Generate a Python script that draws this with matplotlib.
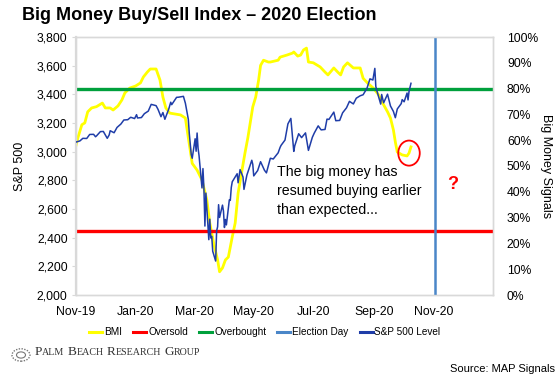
import matplotlib
matplotlib.use("Agg")
import matplotlib.pyplot as plt
import matplotlib.dates as mdates
from matplotlib.lines import Line2D
from matplotlib.patches import Ellipse, Circle
from matplotlib import font_manager
import numpy as np
import pandas as pd

# ---------------- data ----------------
sp_dates = ["2019-11-01","2019-11-05","2019-11-08","2019-11-12","2019-11-15","2019-11-19","2019-11-21","2019-11-22","2019-11-26","2019-11-29",
            "2019-12-03","2019-12-05","2019-12-06","2019-12-10","2019-12-13","2019-12-17","2019-12-20","2019-12-24","2019-12-27","2019-12-31",
            "2020-01-02","2020-01-03","2020-01-07","2020-01-10","2020-01-14","2020-01-17","2020-01-22","2020-01-24","2020-01-27","2020-01-29","2020-01-31",
            "2020-02-04","2020-02-06","2020-02-07","2020-02-12","2020-02-14","2020-02-19","2020-02-21","2020-02-24","2020-02-25","2020-02-27","2020-02-28",
            "2020-03-02","2020-03-03","2020-03-04","2020-03-05","2020-03-06","2020-03-09","2020-03-10","2020-03-11","2020-03-12","2020-03-13",
            "2020-03-16","2020-03-17","2020-03-18","2020-03-19","2020-03-20","2020-03-23","2020-03-24","2020-03-25","2020-03-26","2020-03-27","2020-03-30","2020-03-31",
            "2020-04-01","2020-04-02","2020-04-03","2020-04-06","2020-04-07","2020-04-08","2020-04-09","2020-04-14","2020-04-15","2020-04-17","2020-04-20","2020-04-21","2020-04-24","2020-04-29","2020-04-30",
            "2020-05-01","2020-05-05","2020-05-08","2020-05-12","2020-05-14","2020-05-18","2020-05-21","2020-05-26","2020-05-28","2020-05-29",
            "2020-06-02","2020-06-05","2020-06-08","2020-06-11","2020-06-12","2020-06-16","2020-06-19","2020-06-23","2020-06-26","2020-06-30",
            "2020-07-02","2020-07-06","2020-07-09","2020-07-13","2020-07-15","2020-07-17","2020-07-22","2020-07-24","2020-07-28","2020-07-31",
            "2020-08-04","2020-08-07","2020-08-11","2020-08-14","2020-08-18","2020-08-21","2020-08-25","2020-08-28","2020-08-31",
            "2020-09-02","2020-09-03","2020-09-04","2020-09-08","2020-09-09","2020-09-11","2020-09-15","2020-09-18","2020-09-21","2020-09-23","2020-09-25","2020-09-29","2020-09-30",
            "2020-10-02","2020-10-05","2020-10-06","2020-10-07","2020-10-08","2020-10-09"]
sp_values = [3067,3075,3093,3092,3120,3121,3104,3110,3140,3141,
             3093,3117,3146,3132,3169,3193,3221,3223,3240,3231,
             3258,3235,3238,3265,3283,3330,3321,3295,3244,3273,3226,
             3298,3345,3328,3379,3380,3386,3338,3226,3128,2979,2954,
             3090,3003,3130,3024,2972,2747,2882,2741,2481,2711,
             2386,2529,2398,2409,2305,2237,2447,2476,2630,2541,2627,2585,
             2471,2527,2489,2664,2660,2750,2790,2846,2783,2875,2823,2737,2837,2940,2912,
             2831,2868,2930,2870,2852,2954,2949,2992,3030,3044,
             3081,3194,3232,3002,3041,3125,3098,3131,3009,3100,
             3130,3180,3152,3155,3227,3225,3276,3216,3218,3271,
             3306,3351,3333,3373,3390,3397,3443,3508,3500,
             3581,3455,3427,3332,3399,3341,3401,3319,3281,3237,3298,3335,3363,
             3348,3409,3361,3419,3447,3477]

bmi_dates = ["2019-11-01","2019-11-03","2019-11-07","2019-11-10","2019-11-13","2019-11-17","2019-11-22","2019-11-28",
             "2019-12-01","2019-12-06","2019-12-09","2019-12-14","2019-12-18","2019-12-21","2019-12-26",
             "2020-01-01","2020-01-06","2020-01-09","2020-01-13","2020-01-16","2020-01-22","2020-01-26","2020-01-29",
             "2020-02-01","2020-02-05","2020-02-16","2020-02-21","2020-02-24","2020-02-28",
             "2020-03-04","2020-03-09","2020-03-14","2020-03-17","2020-03-21","2020-03-25","2020-03-27","2020-03-30",
             "2020-04-02","2020-04-05","2020-04-09","2020-04-12","2020-04-15","2020-04-19","2020-04-22","2020-04-25","2020-04-30",
             "2020-05-03","2020-05-06","2020-05-08","2020-05-11","2020-05-16","2020-05-18","2020-05-26","2020-05-28",
             "2020-06-04","2020-06-10","2020-06-11","2020-06-15","2020-06-18","2020-06-21","2020-06-24","2020-06-26",
             "2020-07-01","2020-07-08","2020-07-13","2020-07-16","2020-07-22","2020-07-26","2020-07-29",
             "2020-08-01","2020-08-05","2020-08-08","2020-08-11","2020-08-18","2020-08-21","2020-08-26",
             "2020-09-01","2020-09-06","2020-09-10","2020-09-15","2020-09-18","2020-09-21","2020-09-23","2020-09-25","2020-09-30",
             "2020-10-05","2020-10-07","2020-10-09"]
bmi_values = [58,61,66,66.7,71,72.5,73,74.4,
              72.5,72.5,71.7,73.3,75.6,78.3,80.2,
              81,82.2,84.5,86.4,87.6,87.6,83.3,76.7,
              72.5,70.5,69.8,68.6,61,51,
              48.4,44.6,36.8,27.9,20,13.6,9,10.5,
              13.6,14.7,22.5,27.9,39.5,48.4,55,61,72.9,
              76.7,83.3,89,91,90.3,90.3,91,92.2,
              93,93.8,94.2,92.6,93,95,95.7,90.3,
              90,88.4,86.4,85.3,88,86.4,85.3,
              88.4,90,89,88,88,84,82,
              80,77.5,74.4,71,68.6,64,59.3,55.4,54.3,
              53.9,55,57.4]

overbought_level = 80
oversold_level = 25
election_day = "2020-11-03"

x_start, x_end = "2019-11-01", "2021-01-01"
tick_dates = ["2019-11-01","2020-01-01","2020-03-01","2020-05-01","2020-07-01","2020-09-01","2020-11-01"]
left_ticks = [2000,2200,2400,2600,2800,3000,3200,3400,3600,3800]
right_ticks = [0,10,20,30,40,50,60,70,80,90,100]

title = "Big Money Buy/Sell Index \u2013 2020 Election"
annotation = "The big money has\nresumed buying earlier\nthan expected..."
legend_labels = ["BMI","Oversold","Overbought","Election Day","S&P 500 Level"]

# ---------------- fonts ----------------
avail = {f.name for f in font_manager.fontManager.ttflist}
narrow = "Liberation Sans Narrow" if "Liberation Sans Narrow" in avail else "Liberation Sans"
sans = "Liberation Sans"
serif = "Liberation Serif"

# ---------------- colours ----------------
c_yellow = "#FFFF00"
c_red = "#FF0000"
c_green = "#00A03C"
c_elec = "#4A86C8"
c_blue = "#1F3DA8"
c_grid = "#D9D9D9"

W, H = 560, 385
fig = plt.figure(figsize=(W/100, H/100), dpi=100)
fig.patch.set_facecolor("white")

L, R, T, B = 76, 493, 37, 295
ax = fig.add_axes([L/W, 1-B/H, (R-L)/W, (B-T)/H])
ax2 = ax.twinx()
ax.set_zorder(ax2.get_zorder()+1)
ax.patch.set_visible(False)

sp_d = pd.to_datetime(sp_dates)
bmi_d = pd.to_datetime(bmi_dates)

ax2.plot(bmi_d, bmi_values, color=c_yellow, lw=2.0, solid_joinstyle="round", zorder=2)
ax2.axhline(overbought_level, color=c_green, lw=2.4, zorder=3)
ax2.axhline(oversold_level, color=c_red, lw=2.4, zorder=3)
ax2.axvline(pd.Timestamp(election_day), color=c_elec, lw=1.8, zorder=3)
ax.plot(sp_d, sp_values, color=c_blue, lw=1.1, zorder=4)

ax.set_xlim(pd.Timestamp(x_start), pd.Timestamp(x_end))
ax.set_ylim(2000, 3800)
ax2.set_ylim(0, 100)

ax.set_xticks(pd.to_datetime(tick_dates))
ax.xaxis.set_major_formatter(mdates.DateFormatter("%b-%y"))
ax.set_yticks(left_ticks)
ax.set_yticklabels([f"{v:,}" for v in left_ticks])
ax2.set_yticks(right_ticks)
ax2.set_yticklabels([f"{v}%" for v in right_ticks])

for a in (ax, ax2):
    for s in a.spines.values():
        s.set_color(c_grid)
        s.set_linewidth(1.0)
ax.spines["left"].set_linewidth(1.6)
ax.tick_params(axis="y", length=3, color=c_grid, pad=3)
ax.tick_params(axis="x", length=0, pad=8)
ax2.tick_params(axis="y", length=0, pad=10)
for lbl in ax.get_yticklabels() + ax2.get_yticklabels():
    lbl.set_fontfamily(narrow)
    lbl.set_fontsize(8.7)
for lbl in ax.get_xticklabels():
    lbl.set_fontfamily(narrow)
    lbl.set_fontsize(8.8)

ax.set_ylabel("S&P 500", fontsize=9, fontfamily=sans, labelpad=8)
ax2.set_ylabel("Big Money Signals", fontsize=9, fontfamily=sans, rotation=270, labelpad=10)

# annotation
ax.text(pd.Timestamp("2020-05-25"), 2905, annotation, fontsize=10.2, fontfamily=sans,
        va="top", ha="left", linespacing=1.45, zorder=6)
ax.text(pd.Timestamp("2020-11-21"), 2768, "?", fontsize=13, fontweight="bold",
        color=c_red, fontfamily=sans, ha="center", va="center", zorder=6)

# circle
ell_w_days = 22
ell_h_val = 175
ax.add_patch(Ellipse((mdates.date2num(pd.Timestamp("2020-10-07")), 2990), ell_w_days, ell_h_val,
                     fill=False, edgecolor=c_red, lw=1.3, zorder=6))

# title
fig.text(22/W, 1-16/H, title, fontsize=13, fontweight="bold", fontfamily=narrow,
         ha="left", va="center")

# legend
handles = [Line2D([], [], color=c, lw=2.2) for c in (c_yellow, c_red, c_green, c_elec, c_blue)]
leg = fig.legend(handles, legend_labels, loc="center", bbox_to_anchor=(265/W, 1-332/H),
                 ncol=5, frameon=False, handlelength=1.3, handletextpad=0.2,
                 columnspacing=1.1, prop={"family": narrow, "size": 7.2})

# logo text in small caps
renderer = fig.canvas.get_renderer()
xpos = 35/W
ypos = 1-355/H
words = ["Palm", "Beach", "Research", "Group"]
for wi, w in enumerate(words):
    for k, part in enumerate([w[0], w[1:].upper()]):
        t = fig.text(xpos, ypos, part, fontsize=9.5 if k == 0 else 7.2, fontfamily=serif,
                     color="#333333", ha="left", va="baseline")
        bb = t.get_window_extent(renderer)
        xpos += bb.width/W
    xpos += 3.2/W

# small emblem
emb = Circle((21/W, 1-355/H), 9/W, transform=fig.transFigure, fill=False,
             edgecolor="#777777", lw=1.0, linestyle=(0, (1, 1)))
fig.patches.append(emb)
emb2 = Circle((21/W, 1-355/H), 4.5/W, transform=fig.transFigure, fill=False,
              edgecolor="#777777", lw=0.8)
fig.patches.append(emb2)

fig.text(555/W, 1-369/H, "Source: MAP Signals", fontsize=8, fontfamily=narrow,
         ha="right", va="center")

fig.savefig("out.png", dpi=100, facecolor="white")
